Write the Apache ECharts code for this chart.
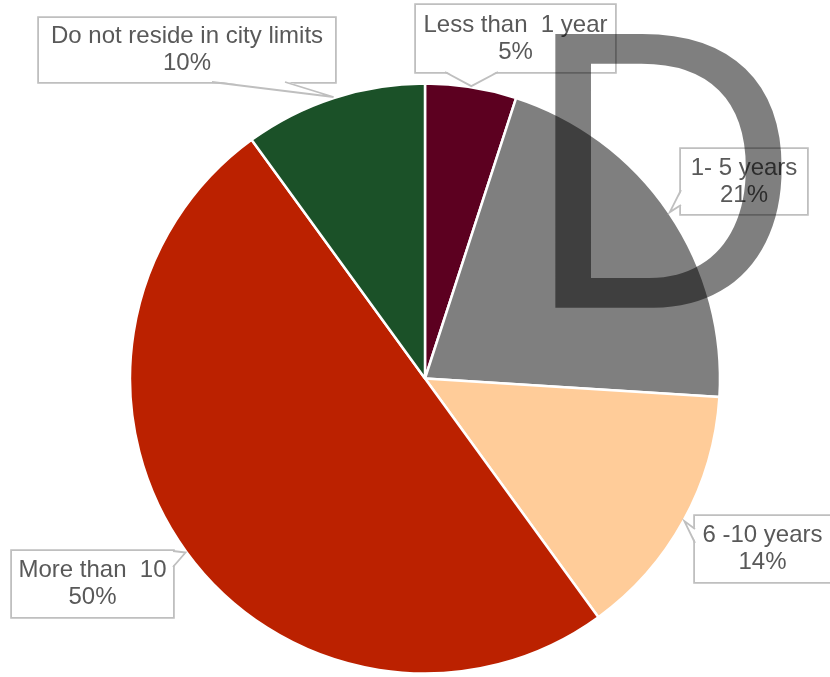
<!DOCTYPE html>
<html>
<head>
<meta charset="utf-8">
<script src="https://cdn.jsdelivr.net/npm/echarts@6/dist/echarts.min.js"></script>
<style>
  html, body { margin: 0; padding: 0; background: #ffffff; }
  #chart { width: 830px; height: 677px; }
</style>
</head>
<body>
<div id="chart"></div>
<script>
// Length of residence, share of respondents (%)
const categories = ['Less than  1 year', '1- 5 years', '6 -10 years', 'More than  10', 'Do not reside in city limits'];
const shares = [5, 21, 14, 50, 10];
const sliceColors = ['#5C0020', '#7F7F7F', '#FFCC99', '#BB2100', '#1B5128'];

// Callout boxes: centre, size, and the box edge the pointer leaves from
const calloutBoxes = [
  { cx: 515.5, cy: 38.5, w: 199, h: 67, side: 'bottom', from: 445, to: 498 },
  { cx: 744,   cy: 181.5, w: 126, h: 65, side: 'left',  from: 190, to: 205 },
  { cx: 762.5, cy: 549,  w: 135, h: 66, side: 'left',   from: 529, to: 543 },
  { cx: 92.5,  cy: 584,  w: 161, h: 66, side: 'right',  from: 551, to: 567 },
  { cx: 187,   cy: 50,   w: 296, h: 64, side: 'bottom', from: 212, to: 285 }
];

const PIE_CENTER = [425, 378.5];
const PIE_RADIUS = 295;
const BOX_BORDER = '#BFBFBF';
const TEXT_COLOR = '#595959';

const chart = echarts.init(document.getElementById('chart'), null, { renderer: 'canvas' });

const pieData = categories.map((name, i) => ({
  name: name,
  value: shares[i],
  itemStyle: { color: sliceColors[i] },
  label: {
    width: calloutBoxes[i].w - 8,
    height: calloutBoxes[i].h - 12
  }
}));

chart.setOption({
  animation: false,
  backgroundColor: '#ffffff',
  series: [{
    type: 'pie',
    center: PIE_CENTER,
    radius: PIE_RADIUS,
    startAngle: 90,
    clockwise: true,
    data: pieData,
    itemStyle: { borderColor: '#ffffff', borderWidth: 2.5 },
    emphasis: { disabled: true },
    label: {
      show: true,
      position: 'outside',
      formatter: p => p.name + '\n' + Math.round(p.percent) + '%',
      fontFamily: 'Liberation Sans, Arial, sans-serif',
      fontSize: 24,
      lineHeight: 27,
      color: TEXT_COLOR,
      backgroundColor: '#ffffff',
      borderColor: BOX_BORDER,
      borderWidth: 1.8,
      padding: [6, 4],
      align: 'center',
      verticalAlign: 'middle',
      overflow: 'none'
    },
    labelLine: { show: false },
    labelLayout: params => {
      const b = calloutBoxes[params.dataIndex];
      return { x: b.cx, y: b.cy, align: 'center', verticalAlign: 'middle' };
    }
  }]
});

// Pointer wedges from each callout box to the middle of its slice's outer edge
function sliceTip(i) {
  let layout = null;
  try {
    layout = chart.getModel().getSeriesByIndex(0).getData().getItemLayout(i);
  } catch (e) { layout = null; }
  if (layout && layout.startAngle != null) {
    const mid = (layout.startAngle + layout.endAngle) / 2;
    return [layout.cx + (layout.r + 1) * Math.cos(mid), layout.cy + (layout.r + 1) * Math.sin(mid)];
  }
  const total = shares.reduce((a, b) => a + b, 0);
  let before = 0;
  for (let k = 0; k < i; k++) before += shares[k];
  const frac = (before + shares[i] / 2) / total;
  const ang = -Math.PI / 2 + frac * 2 * Math.PI;
  return [PIE_CENTER[0] + PIE_RADIUS * Math.cos(ang), PIE_CENTER[1] + PIE_RADIUS * Math.sin(ang)];
}

function wedgeBase(b) {
  const left = b.cx - b.w / 2, right = b.cx + b.w / 2;
  const top = b.cy - b.h / 2, bottom = b.cy + b.h / 2;
  const inset = 1.2;
  if (b.side === 'bottom') return [[b.from, bottom], [b.to, bottom], [b.from, bottom - inset], [b.to, bottom - inset]];
  if (b.side === 'top') return [[b.from, top], [b.to, top], [b.from, top + inset], [b.to, top + inset]];
  if (b.side === 'left') return [[left, b.from], [left, b.to], [left + inset, b.from], [left + inset, b.to]];
  return [[right, b.from], [right, b.to], [right - inset, b.from], [right - inset, b.to]];
}

const graphics = [];
calloutBoxes.forEach((b, i) => {
  const tip = sliceTip(i);
  const base = wedgeBase(b);
  graphics.push({
    type: 'polygon',
    z: 10,
    silent: true,
    shape: { points: [base[2], tip, base[3]] },
    style: { fill: '#ffffff', stroke: null }
  });
  graphics.push({
    type: 'polyline',
    z: 11,
    silent: true,
    shape: { points: [base[0], tip, base[1]] },
    style: { stroke: BOX_BORDER, lineWidth: 1.8, fill: null }
  });
});

// Large translucent letter laid over the chart
graphics.push({
  type: 'text',
  z: 50,
  silent: true,
  x: 524,
  y: -1,
  scaleX: 0.96,
  style: {
    text: 'D',
    fontFamily: 'Liberation Sans',
    fontSize: 398,
    fill: 'rgba(0,0,0,0.5)',
    align: 'left',
    verticalAlign: 'top'
  }
});

chart.setOption({ graphic: { elements: graphics } });
</script>
</body>
</html>
